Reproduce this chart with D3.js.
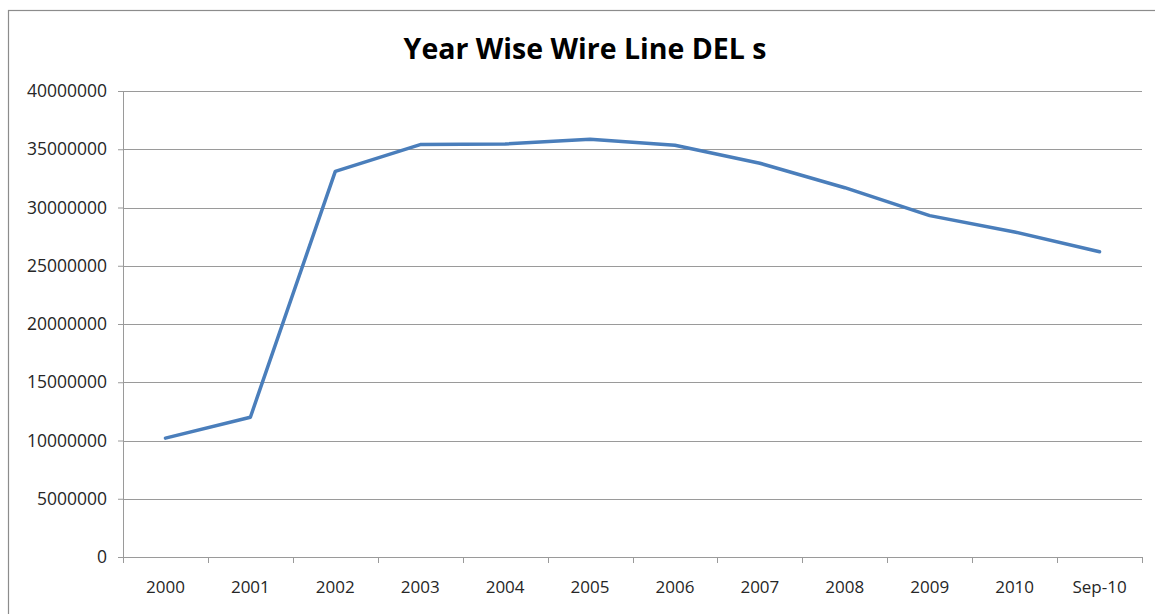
<!DOCTYPE html>
<html>
<head>
<meta charset="utf-8">
<script src="https://cdn.jsdelivr.net/npm/d3@7"></script>
<style>
    body { margin: 0; padding: 0; background: #fff; font-family: "Open Sans", sans-serif; }
    svg { display: block; }
</style>
</head>
<body>
<div id="chart"></div>
<script>
    var categories = ["2000", "2001", "2002", "2003", "2004", "2005", "2006", "2007", "2008", "2009", "2010", "Sep-10"];
    var dels = [10200000, 12000000, 33100000, 35400000, 35450000, 35850000, 35350000, 33800000, 31700000, 29300000, 27900000, 26200000];
    var yTicks = [0, 5000000, 10000000, 15000000, 20000000, 25000000, 30000000, 35000000, 40000000];

    var W = 1155, H = 614;
    var plot = { left: 123, right: 1142, top: 91, bottom: 557 };
    var GRID = "#9a9a9a";

    var svg = d3.select("#chart").append("svg")
        .attr("width", W)
        .attr("height", H);

    // chart frame (right and bottom edges fall outside the picture)
    svg.append("rect")
        .attr("x", 8.5).attr("y", 10.5)
        .attr("width", 1160).attr("height", 620)
        .attr("fill", "#fff")
        .attr("stroke", "#8c8c8c")
        .attr("stroke-width", 1.2);

    svg.append("text")
        .attr("x", 585).attr("y", 59)
        .attr("text-anchor", "middle")
        .style("font-family", "'Open Sans', sans-serif")
        .style("font-weight", "bold")
        .style("font-size", "28.5px")
        .attr("fill", "#000")
        .text("Year Wise Wire Line DEL s");

    var x = d3.scaleBand()
        .domain(categories)
        .range([plot.left, plot.right]);

    var y = d3.scaleLinear()
        .domain([0, 40000000])
        .range([plot.bottom, plot.top]);

    // y axis labels and ticks
    var yAxis = svg.append("g")
        .attr("transform", "translate(" + plot.left + ",0)")
        .call(d3.axisLeft(y).tickValues(yTicks).tickSize(5).tickPadding(11).tickFormat(d3.format("d")));
    yAxis.select(".domain").remove();
    yAxis.selectAll(".tick line").attr("stroke", GRID);
    yAxis.selectAll(".tick text")
        .style("font-family", "'Open Sans', sans-serif")
        .style("font-size", "17.5px")
        .attr("fill", "#262626");

    // horizontal gridlines
    svg.append("g")
        .selectAll("line")
        .data(yTicks.filter(function(d) { return d > 0; }))
        .enter().append("line")
        .attr("x1", plot.left).attr("x2", plot.right)
        .attr("y1", function(d) { return Math.round(y(d)) + 0.5; })
        .attr("y2", function(d) { return Math.round(y(d)) + 0.5; })
        .attr("stroke", GRID);

    // y axis line
    svg.append("line")
        .attr("x1", plot.left + 0.5).attr("x2", plot.left + 0.5)
        .attr("y1", plot.top).attr("y2", plot.bottom)
        .attr("stroke", GRID);

    // x axis: baseline, ticks between categories, labels at centres
    svg.append("line")
        .attr("x1", plot.left).attr("x2", plot.right)
        .attr("y1", plot.bottom + 0.5).attr("y2", plot.bottom + 0.5)
        .attr("stroke", GRID);

    var boundaries = categories.map(function(c) { return x(c); }).concat([x.range()[1]]);
    svg.append("g")
        .selectAll("line")
        .data(boundaries)
        .enter().append("line")
        .attr("x1", function(d) { return Math.round(d) + 0.5; })
        .attr("x2", function(d) { return Math.round(d) + 0.5; })
        .attr("y1", plot.bottom)
        .attr("y2", plot.bottom + 6)
        .attr("stroke", GRID);

    svg.append("g")
        .selectAll("text")
        .data(categories)
        .enter().append("text")
        .attr("x", function(d) { return x(d) + x.bandwidth() / 2; })
        .attr("y", 593)
        .attr("text-anchor", "middle")
        .style("font-family", "'Open Sans', sans-serif")
        .style("font-size", "17px")
        .attr("fill", "#262626")
        .text(function(d) { return d; });

    var line = d3.line()
        .x(function(d, i) { return x(categories[i]) + x.bandwidth() / 2; })
        .y(function(d) { return y(d); });

    svg.append("path")
        .datum(dels)
        .attr("d", line)
        .attr("fill", "none")
        .attr("stroke", "#4a7ebb")
        .attr("stroke-width", 3.5)
        .attr("stroke-linejoin", "round")
        .attr("stroke-linecap", "round");
</script>
</body>
</html>
